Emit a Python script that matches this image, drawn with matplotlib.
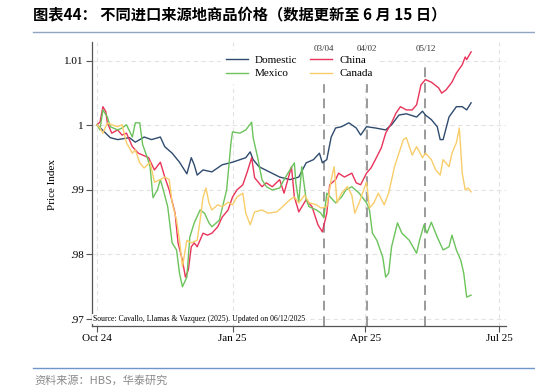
import numpy as np
import pandas as pd
import matplotlib
matplotlib.use('Agg')
import matplotlib.pyplot as plt
import matplotlib.dates as mdates

# day offsets from 2024-10-01 and price index
start = pd.Timestamp('2024-10-01')

dom_days = [0, 9, 14, 22, 26, 32, 37, 43, 46, 51, 56, 61, 64, 66, 68, 72, 78, 85, 92, 101, 104, 106,
            110, 117, 124, 131, 137, 142, 147, 151, 153, 156, 159, 162, 166, 171, 176, 179, 183, 189,
            196, 200, 205, 210, 217, 221, 223, 227, 231, 233, 235, 239, 244, 248, 251, 254]
dom_vals = [1.0001, 0.9981, 0.9978, 0.9981, 0.9974, 0.9982, 0.9978, 0.9982, 0.9967, 0.9957, 0.9943,
            0.9925, 0.9950, 0.9939, 0.9923, 0.9931, 0.9928, 0.9939, 0.9943, 0.9950, 0.9959, 0.9947,
            0.9936, 0.9928, 0.9920, 0.9916, 0.9920, 0.9942, 0.9947, 0.9957, 0.9942, 0.9947, 0.9982,
            0.9996, 0.9998, 1.0004, 0.9996, 0.9985, 0.9998, 0.9996, 0.9993, 1.0001, 1.0016, 1.0018,
            1.0013, 1.0022, 1.0016, 1.0009, 0.9998, 0.9978, 0.9978, 1.0013, 1.0029, 1.0029, 1.0024,
            1.0035]

chn_days = [0, 2, 4, 6, 7, 10, 14, 17, 20, 24, 28, 31, 35, 39, 43, 46, 49, 53, 55, 58, 60, 62, 64,
            66, 68, 72, 75, 78, 82, 85, 89, 92, 95, 99, 102, 105, 107, 112, 115, 119, 124, 127, 132,
            134, 136, 137, 142, 146, 150, 153, 156, 158, 162, 164, 168, 173, 176, 179, 183, 186, 189,
            193, 196, 200, 203, 206, 210, 214, 217, 220, 223, 227, 232, 234, 237, 241, 244, 248, 250,
            251, 254]
chn_vals = [1.0001, 1.0005, 1.0029, 1.0021, 1.0004, 0.9988, 0.9993, 0.9985, 0.9988, 0.9967, 0.9957,
            0.9954, 0.9950, 0.9931, 0.9943, 0.9920, 0.9900, 0.9864, 0.9818, 0.9791, 0.9765, 0.9776,
            0.9812, 0.9818, 0.9812, 0.9833, 0.9830, 0.9833, 0.9843, 0.9858, 0.9869, 0.9889, 0.9900,
            0.9908, 0.9928, 0.9950, 0.9919, 0.9905, 0.9911, 0.9905, 0.9916, 0.9895, 0.9936, 0.9889,
            0.9874, 0.9866, 0.9885, 0.9874, 0.9846, 0.9835, 0.9864, 0.9908, 0.9916, 0.9926, 0.9920,
            0.9926, 0.9911, 0.9908, 0.9926, 0.9934, 0.9947, 0.9965, 0.9988, 1.0004, 1.0019, 1.0029,
            1.0024, 1.0024, 1.0032, 1.0063, 1.0071, 1.0067, 1.0058, 1.0050, 1.0055, 1.0067, 1.0081,
            1.0094, 1.0106, 1.0102, 1.0114]

mex_days = [0, 2, 4, 7, 9, 14, 17, 20, 24, 26, 29, 31, 34, 36, 38, 41, 43, 45, 48, 51, 54, 56, 58,
            61, 63, 66, 70, 73, 76, 78, 83, 88, 91, 92, 97, 101, 105, 106, 109, 112, 115, 119, 124,
            127, 131, 134, 135, 137, 139, 142, 144, 149, 152, 154, 156, 160, 162, 166, 169, 173, 178,
            183, 185, 187, 190, 194, 196, 198, 200, 204, 207, 212, 217, 219, 222, 224, 227, 231, 235,
            239, 241, 244, 247, 249, 251, 254]
mex_vals = [1.0001, 0.9993, 1.0024, 1.0013, 0.9998, 0.9993, 0.9996, 1.0001, 0.9982, 1.0004, 1.0004,
            0.9970, 0.9951, 0.9936, 0.9888, 0.9900, 0.9916, 0.9900, 0.9874, 0.9818, 0.9807, 0.9771,
            0.9750, 0.9765, 0.9827, 0.9849, 0.9869, 0.9864, 0.9849, 0.9843, 0.9853, 0.9900, 0.9974,
            0.9990, 0.9988, 0.9993, 1.0005, 0.9981, 0.9951, 0.9916, 0.9905, 0.9900, 0.9903, 0.9916,
            0.9931, 0.9942, 0.9911, 0.9881, 0.9936, 0.9885, 0.9874, 0.9869, 0.9864, 0.9857, 0.9895,
            0.9885, 0.9880, 0.9889, 0.9900, 0.9905, 0.9895, 0.9880, 0.9869, 0.9833, 0.9822, 0.9796,
            0.9765, 0.9771, 0.9812, 0.9849, 0.9833, 0.9822, 0.9802, 0.9822, 0.9846, 0.9833, 0.9850,
            0.9827, 0.9807, 0.9812, 0.9830, 0.9807, 0.9791, 0.9771, 0.9734, 0.9737]

can_days = [0, 2, 4, 7, 10, 14, 17, 20, 24, 26, 29, 32, 36, 39, 43, 46, 49, 51, 54, 56, 58, 61, 64,
            68, 70, 72, 74, 76, 78, 82, 85, 89, 92, 95, 99, 101, 104, 107, 112, 116, 122, 126, 131,
            134, 137, 141, 144, 149, 152, 156, 159, 161, 163, 166, 170, 173, 175, 178, 181, 183, 185,
            188, 191, 195, 198, 202, 205, 208, 210, 214, 217, 221, 223, 227, 230, 233, 235, 239, 241,
            244, 246, 248, 250, 252, 254]
can_vals = [1.0001, 0.9996, 0.9988, 1.0004, 1.0001, 0.9998, 1.0001, 0.9973, 0.9957, 0.9962, 0.9942,
            0.9934, 0.9943, 0.9912, 0.9916, 0.9920, 0.9916, 0.9880, 0.9853, 0.9822, 0.9781, 0.9822,
            0.9818, 0.9822, 0.9853, 0.9889, 0.9903, 0.9880, 0.9869, 0.9877, 0.9874, 0.9881, 0.9877,
            0.9889, 0.9895, 0.9864, 0.9846, 0.9866, 0.9869, 0.9864, 0.9866, 0.9874, 0.9885, 0.9889,
            0.9880, 0.9892, 0.9880, 0.9877, 0.9872, 0.9874, 0.9916, 0.9936, 0.9880, 0.9895, 0.9905,
            0.9892, 0.9864, 0.9880, 0.9900, 0.9912, 0.9872, 0.9880, 0.9895, 0.9877, 0.9895, 0.9936,
            0.9957, 0.9978, 0.9981, 0.9954, 0.9967, 0.9950, 0.9957, 0.9947, 0.9931, 0.9923, 0.9947,
            0.9936, 0.9957, 0.9973, 0.9996, 0.9926, 0.9900, 0.9903, 0.9897]

events = ['2025-03-04', '2025-04-02', '2025-05-12']
event_labels = ['03/04', '04/02', '05/12']

yticks = [0.97, 0.98, 0.99, 1.0, 1.01]
ytick_labels = ['.97', '.98', '.99', '1', '1.01']
xticks = ['2024-10-01', '2025-01-01', '2025-04-01', '2025-07-01']
xtick_labels = ['Oct 24', 'Jan 25', 'Apr 25', 'Jul 25']


def to_dates(days):
    return start + pd.to_timedelta(days, unit='D')


serif = 'Liberation Serif'
cjk = ['Noto Sans CJK SC', 'DejaVu Sans']

fig = plt.figure(figsize=(5.35, 3.92), dpi=100)
ax = fig.add_axes([0.172, 0.168, 0.7738, 0.7245])

# grid
for y in yticks:
    ax.axhline(y, color='#e3e3e3', lw=0.8, ls=(0, (4, 3)), zorder=0)
for x in xticks:
    ax.axvline(pd.Timestamp(x), color='#e3e3e3', lw=0.8, ls=(0, (4, 3)), zorder=0)

# event lines
for d, lab in zip(events, event_labels):
    ax.plot([pd.Timestamp(d)] * 2, [0.9689, 1.0090], color='#9a9a9a', lw=1.4, ls=(0, (5, 3)), zorder=1)
    ax.text(pd.Timestamp(d), 1.0119, lab, fontsize=6.5, family=serif, ha='center', va='center',
            color='#333333', zorder=1)

l_dom, = ax.plot(to_dates(dom_days), dom_vals, color='#2f4b6e', lw=1.0, zorder=3, label='Domestic')
l_chn, = ax.plot(to_dates(chn_days), chn_vals, color='#e8345a', lw=1.0, zorder=3, label='China')
l_mex, = ax.plot(to_dates(mex_days), mex_vals, color='#6cc35c', lw=1.0, zorder=3, label='Mexico')
l_can, = ax.plot(to_dates(can_days), can_vals, color='#f8cd6a', lw=1.0, zorder=3, label='Canada')

leg = ax.legend(handles=[l_dom, l_mex, l_chn, l_can], ncol=2, loc='upper center',
                bbox_to_anchor=(0.5, 0.988), frameon=True, fancybox=False, framealpha=1,
                edgecolor='white', facecolor='white', prop={'family': serif, 'size': 8},
                handlelength=2.0, columnspacing=1.2, labelspacing=0.3, borderpad=0.4,
                handletextpad=0.6)
leg.set_zorder(5)

ax.text(0.003, 0.97, 'Source: Cavallo, Llamas & Vazquez (2025). Updated on 06/12/2025',
        transform=ax.get_yaxis_transform(), fontsize=5.6, family=serif, va='center', ha='left',
        bbox=dict(facecolor='white', edgecolor='none', pad=0.8), zorder=6)

ax.set_xlim(start - pd.Timedelta(days=3.4), pd.Timestamp('2025-07-01') + pd.Timedelta(days=4.7))
ax.set_ylim(0.9689, 1.0129)
ax.set_xticks([pd.Timestamp(x) for x in xticks])
ax.set_xticklabels(xtick_labels, family=serif, fontsize=8)
ax.set_yticks(yticks)
ax.set_yticklabels(ytick_labels, family=serif, fontsize=8)
ax.set_ylabel('Price Index', family=serif, fontsize=8, labelpad=5)
ax.tick_params(direction='out', length=4, width=0.8, color='#555555', pad=2)
for s in ['top', 'right']:
    ax.spines[s].set_visible(False)
for s in ['left', 'bottom']:
    ax.spines[s].set_color('#555555')
    ax.spines[s].set_linewidth(0.9)

# report frame
fig.text(0.062, 0.963, '图表44： 不同进口来源地商品价格（数据更新至 6 月 15 日）', family=cjk,
         fontsize=11, fontweight='bold', va='center', ha='left')
fig.add_artist(plt.Line2D([0.062, 1.0], [0.918, 0.918], color='#8ea6c4', lw=1.0))
fig.add_artist(plt.Line2D([0.062, 1.0], [0.062, 0.062], color='#6f95cc', lw=1.0))
fig.text(0.065, 0.030, '资料来源：HBS，华泰研究', family=cjk, fontsize=8, color='#8a8a8a',
         va='center', ha='left')

fig.savefig('out.png', dpi=100)
